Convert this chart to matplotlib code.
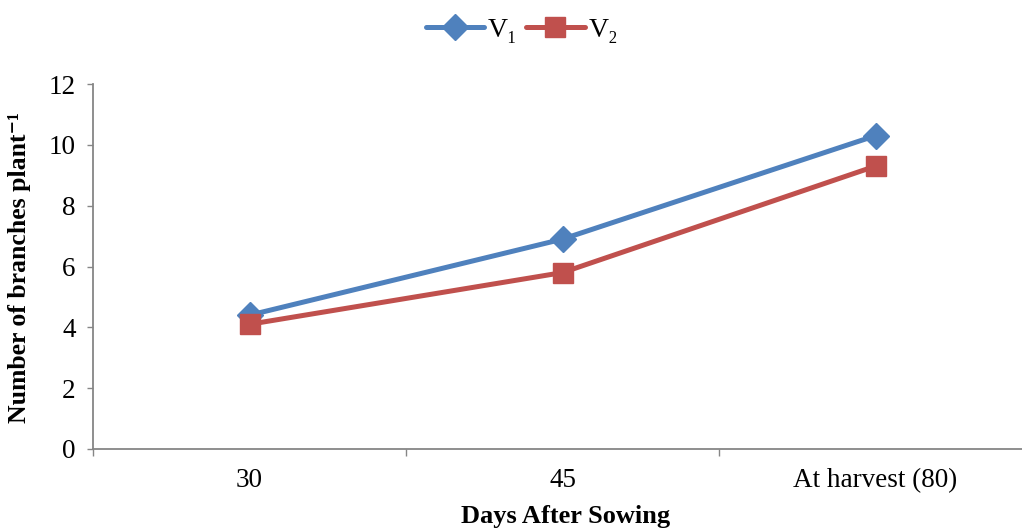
import matplotlib
matplotlib.use("Agg")
import matplotlib.pyplot as plt
from matplotlib.ticker import FixedLocator, NullFormatter, FixedFormatter

# Data
categories = ["30", "45", "At harvest (80)"]
v1_values = [4.4, 6.9, 10.3]
v2_values = [4.1, 5.8, 9.3]
series_names = ["V\u2081", "V\u2082"]

plt.rcParams["font.family"] = ["Liberation Serif", "DejaVu Serif"]

W, H = 1022, 531
fig = plt.figure(figsize=(W / 100, H / 100), dpi=100)
ax = fig.add_axes([93 / W, (H - 449) / H, (1032 - 93) / W, (449 - 84) / H])

x = list(range(len(categories)))
blue = "#4F81BD"
red = "#C0504D"

ax.plot(x, v1_values, color=blue, lw=3.6, marker="D", ms=13,
        markerfacecolor=blue, markeredgecolor=blue, label=series_names[0],
        solid_capstyle="round", zorder=3)
ax.plot(x, v2_values, color=red, lw=3.6, marker="s", ms=14,
        markerfacecolor=red, markeredgecolor=red, label=series_names[1],
        solid_capstyle="round", zorder=3)

ax.set_xlim(-0.5, len(categories) - 0.5)
ax.set_ylim(0, 12)
ax.set_yticks(range(0, 13, 2))

ax.xaxis.set_major_locator(FixedLocator([i - 0.5 for i in range(len(categories) + 1)]))
ax.xaxis.set_major_formatter(NullFormatter())
ax.xaxis.set_minor_locator(FixedLocator(x))
ax.xaxis.set_minor_formatter(FixedFormatter(categories))
ax.tick_params(axis="x", which="major", length=5, width=1, color="#868686", direction="out")
ax.tick_params(axis="x", which="minor", length=0, pad=14, labelsize=19.5)
ax.tick_params(axis="y", length=4.5, width=1, color="#868686", direction="out", pad=8, labelsize=19.5)

for side in ("top", "right"):
    ax.spines[side].set_visible(False)
for side in ("left", "bottom"):
    ax.spines[side].set_color("#868686")
    ax.spines[side].set_linewidth(1.3)

fig.text(20 / W, 1 - 268 / H, "Number of branches plant\u207b\u00b9",
         rotation=90, ha="center", va="center", fontsize=18.5, fontweight="bold")
fig.text(566 / W, 1 - 517 / H, "Days After Sowing",
         ha="center", va="center", fontsize=19, fontweight="bold")

fig.legend(loc="center", bbox_to_anchor=(522 / W, 1 - 30 / H), ncol=2, frameon=False,
           fontsize=20, handlelength=2.1, columnspacing=0.3, handletextpad=0.15)

fig.savefig("out.png", dpi=100)
